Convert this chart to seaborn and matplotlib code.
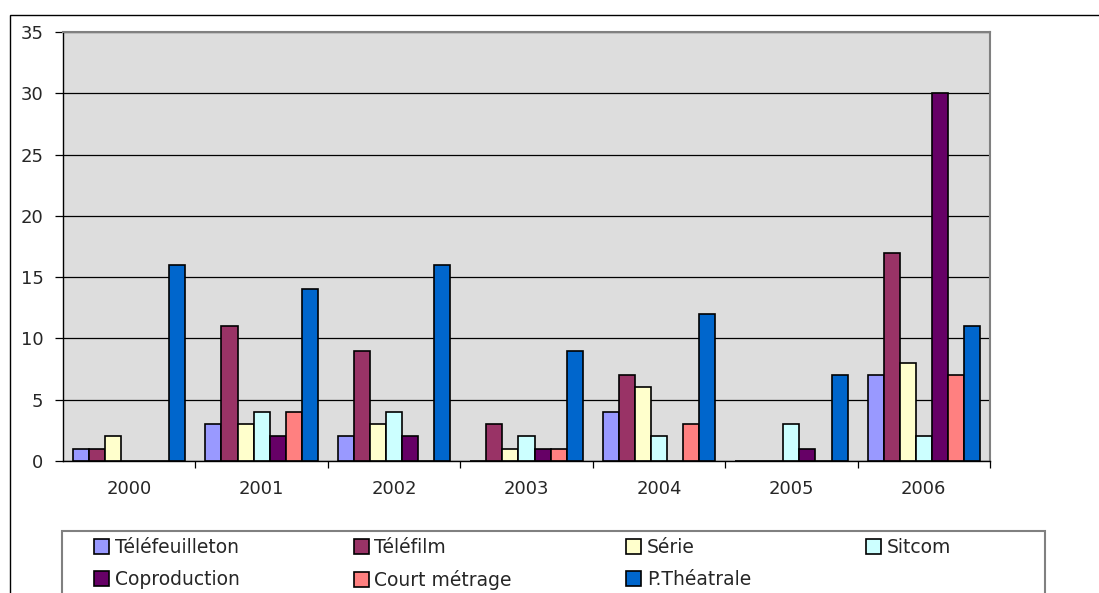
import matplotlib
matplotlib.use('Agg')

import matplotlib.pyplot as plt
import pandas as pd
import seaborn as sns
from matplotlib.patches import Rectangle
from matplotlib.ticker import FixedLocator, MultipleLocator

years = ["2000", "2001", "2002", "2003", "2004", "2005", "2006"]
series = ["Téléfeuilleton", "Téléfilm", "Série", "Sitcom",
          "Coproduction", "Court métrage", "P.Théatrale"]

telefeuilleton = [1, 3, 2, 0, 4, 0, 7]
telefilm = [1, 11, 9, 3, 7, 0, 17]
serie = [2, 3, 3, 1, 6, 0, 8]
sitcom = [0, 4, 4, 2, 2, 3, 2]
coproduction = [0, 2, 2, 1, 0, 1, 30]
court_metrage = [0, 4, 0, 1, 3, 0, 7]
p_theatrale = [16, 14, 16, 9, 12, 7, 11]

colors = ["#9999FF", "#993366", "#FFFFCC", "#CCFFFF",
          "#660066", "#FF8080", "#0066CC"]

values = [telefeuilleton, telefilm, serie, sitcom,
          coproduction, court_metrage, p_theatrale]

rows = []
for name, vals in zip(series, values):
    for year, v in zip(years, vals):
        rows.append({"Année": year, "Type": name, "Nombre": v})
df = pd.DataFrame(rows)

sns.set_style("white")
plt.rcParams['font.family'] = ['DejaVu Sans']

W, H = 1099, 593
fig = plt.figure(figsize=(W / 100, H / 100), dpi=100)
ax = fig.add_axes([63 / W, 1 - 461 / H, 927 / W, 429 / H])
ax.set_facecolor("#DDDDDD")

sns.barplot(
    data=df,
    x="Année",
    y="Nombre",
    hue="Type",
    hue_order=series,
    palette=colors,
    width=0.85,
    edgecolor="black",
    linewidth=1.2,
    saturation=1,
    ax=ax
)

ax.set_xlim(-0.5, len(years) - 0.5)
ax.set_ylim(0, 35)
ax.yaxis.set_major_locator(MultipleLocator(5))
ax.grid(axis="y", color="black", linewidth=0.9)
ax.set_axisbelow(True)
ax.set_xlabel("")
ax.set_ylabel("")

ax.tick_params(axis="x", which="major", length=0, labelsize=13, pad=14)
ax.xaxis.set_minor_locator(FixedLocator([i + 0.5 for i in range(len(years))]))
ax.tick_params(axis="x", which="minor", length=5, width=0.9,
               direction="out", bottom=True, color="black")
ax.tick_params(axis="y", length=6, width=0.9, direction="out",
               left=True, color="black", labelsize=13, pad=8)

for side in ["left", "bottom"]:
    ax.spines[side].set_color("black")
    ax.spines[side].set_linewidth(1.0)
for side in ["top", "right"]:
    ax.spines[side].set_color("#808080")
    ax.spines[side].set_linewidth(1.5)

# legend filled row by row, like the original
handles, labels = ax.get_legend_handles_labels()
order = [0, 4, 1, 5, 2, 6, 3]
ax.legend(
    [handles[i] for i in order],
    [labels[i] for i in order],
    ncol=4,
    loc="upper left",
    bbox_to_anchor=(94 / W, 1 - 538 / H),
    bbox_transform=fig.transFigure,
    fontsize=13.5,
    frameon=False,
    handlelength=0.8,
    handleheight=0.8,
    handletextpad=0.3,
    columnspacing=6.1,
    labelspacing=0.7,
    borderpad=0,
    borderaxespad=0
)

# legend frame and outer chart frame
fig.patches.append(Rectangle((62 / W, -0.1), 983 / W, 0.1 + 1 - 531 / H,
                             transform=fig.transFigure, fill=False,
                             edgecolor="#808080", linewidth=1.5))
fig.patches.append(Rectangle((10 / W, -0.1), 1.2, 1.1 - 15 / H,
                             transform=fig.transFigure, fill=False,
                             edgecolor="black", linewidth=1.0))

plt.savefig("out.png", dpi=100)
plt.close()
